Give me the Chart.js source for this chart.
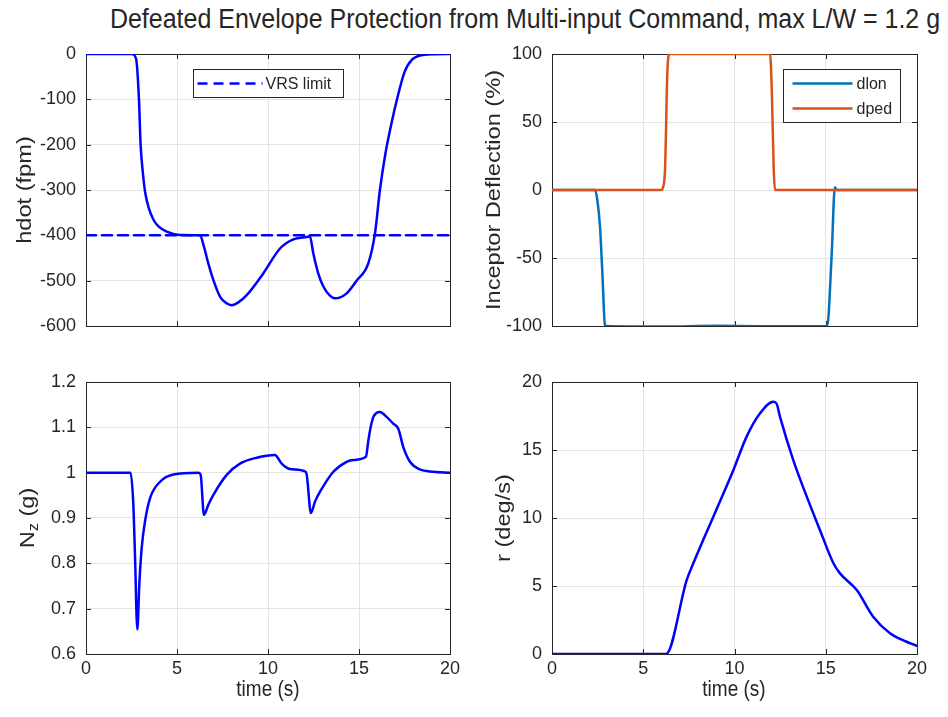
<!DOCTYPE html>
<html>
<head>
<meta charset="utf-8">
<title>Defeated Envelope Protection</title>
<script src="https://cdn.jsdelivr.net/npm/chart.js@4.4.1/dist/chart.umd.min.js"></script>
<style>
  body { margin: 0; width: 948px; height: 717px; background: #fff; overflow: hidden; position: relative;
         font-family: 'Liberation Sans', Arial, Helvetica, sans-serif; color: #262626; }
  canvas { position: absolute; }
  .lbl { position: absolute; white-space: nowrap; font-size: 19px; line-height: 1; transform: translate(-50%, -50%) scaleY(1.12); }
  .lbl.rot { font-size: 20px; transform: translate(-50%, -50%) rotate(-90deg) scaleX(1.18); }
  .lbl sub { font-size: 14px; vertical-align: -4px; }
  #title { position: absolute; left: 25px; width: 1000px; top: 6px; text-align: center; font-size: 25px; line-height: 25px; transform: scaleY(1.1); }
</style>
</head>
<body>
<div id="title">Defeated Envelope Protection from Multi-input Command, max L/W = 1.2 g</div>

<canvas id="hdotChart" width="460" height="300" style="left:0;top:40px"></canvas>
<canvas id="inceptorChart" width="465" height="300" style="left:465px;top:40px"></canvas>
<canvas id="nzChart" width="460" height="347" style="left:0;top:370px"></canvas>
<canvas id="rChart" width="465" height="347" style="left:465px;top:370px"></canvas>

<div class="lbl rot" style="left:24px;top:190px">hdot (fpm)</div>
<div class="lbl rot" style="left:493px;top:190px">Inceptor Deflection (%)</div>
<div class="lbl rot" style="left:28px;top:518px">N<sub>z</sub> (g)</div>
<div class="lbl rot" style="left:503px;top:518px">r (deg/s)</div>
<div class="lbl" style="left:268px;top:689px">time (s)</div>
<div class="lbl" style="left:734px;top:689px">time (s)</div>

<script>
// data
const timeTicks = [0, 5, 10, 15, 20];

const hdotTime = [0, 2.5, 2.75, 2.91, 3.0, 3.12, 3.25, 3.45, 3.7, 4.0, 4.43, 5.16, 6.26, 6.48, 6.72, 7.0, 7.36, 7.73, 8.0, 8.37, 8.83, 9.74,
                  10.66, 11.39, 12.2, 12.3, 12.49, 12.76, 13.04, 13.4, 13.68, 14.32, 14.87, 15.51, 15.88, 16.15, 16.45, 16.8, 17.15,
                  17.5, 17.9, 18.53, 19.2, 20];
const hdotFpm = [0, 0, -10, -100, -200, -260, -305, -340, -365, -381, -392, -399, -400, -425, -462, -499, -535, -550, -554, -548, -532, -484,
                 -429, -409, -403, -402, -440, -484, -513, -533, -539, -528, -500, -462, -395, -300, -220, -150, -90,
                 -40, -13, -2, -0.5, 0];
const vrsTime = [0, 20];
const vrsLimit = [-400, -400];
const hdotTicks = [-600, -500, -400, -300, -200, -100, 0];

const dlonTime = [0, 2.36, 2.48, 2.63, 2.76, 2.9, 3.0, 6, 9, 12, 15.08, 15.32, 15.5, 15.6, 20];
const dlonPct = [0, 0, -7, -27, -61, -99, -100, -100.4, -99.8, -100.2, -100, -49, 2, 0, 0];
const dpedTime = [0, 6.01, 6.06, 6.19, 6.32, 6.43, 11.95, 12.05, 12.15, 12.22, 20];
const dpedPct = [0, 0, 1, 14, 86, 100, 100, 70, 15, 0, 0];
const inceptorTicks = [-100, -50, 0, 50, 100];

const nzTime = [0, 2.45, 2.6, 2.69, 2.82, 2.93, 3.06, 3.24, 3.52, 4.07, 4.8, 6.17, 6.3, 6.48, 6.72, 7.0, 7.73, 8.46, 9.38, 10.38,
                10.75, 11.2, 12.03, 12.13, 12.36, 12.58, 12.86, 13.59, 14.32, 14.7, 15.38, 15.51, 15.64, 15.79, 15.97, 16.15,
                16.52, 16.88, 17.16, 17.43, 17.8, 18.35, 19.08, 20];
const nzG = [1.0, 1.0, 0.93, 0.82, 0.654, 0.754, 0.834, 0.892, 0.944, 0.98, 0.996, 1.0, 0.995, 0.907, 0.929, 0.951, 0.995, 1.02, 1.033, 1.039,
             1.02, 1.008, 1.003, 0.995, 0.911, 0.936, 0.958, 1.002, 1.024, 1.028, 1.035, 1.07, 1.1, 1.123, 1.132, 1.134,
             1.123, 1.108, 1.097, 1.057, 1.024, 1.007, 1.002, 1.0];
const nzTicks = [0.6, 0.7, 0.8, 0.9, 1.0, 1.1, 1.2];

const rTime = [0, 6.25, 7.38, 7.74, 8.84, 9.93, 10.67, 11.4, 12.13, 12.31, 12.49, 13.22, 13.96, 14.68, 15.42, 15.78, 16.7, 17.6,
               18.52, 19.43, 19.89, 20];
const rDegS = [0, 0, 5.44, 6.65, 10.1, 13.5, 16.0, 17.7, 18.55, 18.4, 17.45, 14.26, 11.57, 9.12, 6.67, 5.93, 4.7, 2.74,
               1.52, 0.9, 0.66, 0.6];
const rTicks = [0, 5, 10, 15, 20];

const ink = '#262626';
const gridColor = '#e3e3e3';
const tickFont = { family: "'Liberation Sans', Arial, sans-serif", size: 18 };

function xy(xs, ys) {
    return xs.map((x, i) => ({ x: x, y: ys[i] }));
}

// box round the axes with inward tick marks on all four sides, like matlab
const matlabBox = {
    id: 'matlabBox',
    beforeDatasetsDraw(chart) {
        const { ctx, chartArea: a, scales } = chart;
        ctx.save();
        ctx.strokeStyle = ink;
        ctx.lineWidth = 1;
        ctx.beginPath();
        scales.x.ticks.forEach(t => {
            const px = Math.round(scales.x.getPixelForValue(t.value)) + 0.5;
            ctx.moveTo(px, a.bottom); ctx.lineTo(px, a.bottom - 5);
            ctx.moveTo(px, a.top); ctx.lineTo(px, a.top + 5);
        });
        scales.y.ticks.forEach(t => {
            const py = Math.round(scales.y.getPixelForValue(t.value)) + 0.5;
            ctx.moveTo(a.left, py); ctx.lineTo(a.left + 5, py);
            ctx.moveTo(a.right, py); ctx.lineTo(a.right - 5, py);
        });
        ctx.stroke();
        ctx.strokeRect(Math.round(a.left) + 0.5, Math.round(a.top) + 0.5, Math.round(a.right - a.left), Math.round(a.bottom - a.top));
        ctx.restore();
    }
};

// boxed legend inside the axes
function boxLegend(cfg) {
    return {
        id: 'boxLegend',
        afterDatasetsDraw(chart) {
            if (!cfg) return;
            const { ctx, chartArea } = chart;
            const x = Math.round(chartArea.left + cfg.x) + 0.5;
            const y = Math.round(chartArea.top + cfg.y) + 0.5;
            ctx.save();
            ctx.fillStyle = '#fff';
            ctx.fillRect(x, y, cfg.w, cfg.h);
            ctx.strokeStyle = ink;
            ctx.lineWidth = 1;
            ctx.strokeRect(x, y, cfg.w, cfg.h);
            ctx.font = "16px 'Liberation Sans', Arial, sans-serif";
            ctx.textBaseline = 'middle';
            cfg.items.forEach((idx, i) => {
                const ds = chart.data.datasets[idx];
                const ly = y + cfg.rowTop + i * cfg.rowGap;
                ctx.strokeStyle = ds.borderColor;
                ctx.lineWidth = ds.borderWidth;
                ctx.setLineDash(ds.borderDash || []);
                ctx.beginPath();
                ctx.moveTo(x + cfg.lineFrom, ly);
                ctx.lineTo(x + cfg.lineTo, ly);
                ctx.stroke();
                ctx.setLineDash([]);
                ctx.fillStyle = ink;
                ctx.fillText(ds.label, x + cfg.textAt, ly + 1);
            });
            ctx.restore();
        }
    };
}

function makePanel(id, datasets, o) {
    return new Chart(document.getElementById(id), {
        type: 'line',
        data: { datasets: datasets },
        options: {
            responsive: false,
            animation: false,
            events: [],
            layout: { padding: o.pad },
            elements: {
                point: { radius: 0 },
                line: { cubicInterpolationMode: 'monotone', borderCapStyle: 'round', borderJoinStyle: 'round' }
            },
            plugins: { legend: { display: false }, tooltip: { enabled: false } },
            scales: {
                x: {
                    type: 'linear', min: 0, max: 20,
                    afterBuildTicks: s => { s.ticks = timeTicks.map(v => ({ value: v })); },
                    afterFit: s => { s.height = o.xHeight; s.paddingLeft = 0; s.paddingRight = 0; },
                    grid: { color: gridColor, drawTicks: false },
                    border: { display: false },
                    ticks: { display: o.xLabels, padding: 4, color: ink, font: tickFont, maxRotation: 0 }
                },
                y: {
                    type: 'linear', min: o.yTicks[0], max: o.yTicks[o.yTicks.length - 1],
                    afterBuildTicks: s => { s.ticks = o.yTicks.map(v => ({ value: v })); },
                    afterFit: s => { s.width = o.yWidth; s.paddingTop = 0; s.paddingBottom = 0; },
                    grid: { color: gridColor, drawTicks: false },
                    border: { display: false },
                    ticks: { padding: 10, color: ink, font: tickFont, callback: v => String(+v.toFixed(2)) }
                }
            }
        },
        plugins: [matlabBox, boxLegend(o.legend)]
    });
}

makePanel('hdotChart', [
    { label: 'hdot', data: xy(hdotTime, hdotFpm), borderColor: '#0000ff', borderWidth: 2.5, order: 2 },
    { label: 'VRS limit', data: xy(vrsTime, vrsLimit), borderColor: '#0000ff', borderWidth: 2.5, borderDash: [10, 6], order: 1 }
], {
    pad: { left: 0, top: 14, right: 10, bottom: 0 }, yWidth: 86, xHeight: 14, xLabels: false, yTicks: hdotTicks,
    legend: { x: 107, y: 15, w: 150, h: 28, items: [1], rowTop: 14, rowGap: 0, lineFrom: 4, lineTo: 69, textAt: 72 }
});

makePanel('inceptorChart', [
    { label: 'dlon', data: xy(dlonTime, dlonPct), borderColor: '#0072bd', borderWidth: 2.5, order: 2 },
    { label: 'dped', data: xy(dpedTime, dpedPct), borderColor: '#d95319', borderWidth: 2.5, order: 1 }
], {
    pad: { left: 0, top: 14, right: 13, bottom: 0 }, yWidth: 87, xHeight: 14, xLabels: false, yTicks: inceptorTicks,
    legend: { x: 231, y: 15, w: 117, h: 53, items: [0, 1], rowTop: 14, rowGap: 25, lineFrom: 9, lineTo: 69, textAt: 73 }
});

makePanel('nzChart', [
    { label: 'Nz', data: xy(nzTime, nzG), borderColor: '#0000ff', borderWidth: 2.5 }
], {
    pad: { left: 0, top: 12, right: 10, bottom: 0 }, yWidth: 86, xHeight: 63, xLabels: true, yTicks: nzTicks
});

makePanel('rChart', [
    { label: 'r', data: xy(rTime, rDegS), borderColor: '#0000ff', borderWidth: 2.5 }
], {
    pad: { left: 0, top: 12, right: 13, bottom: 0 }, yWidth: 87, xHeight: 63, xLabels: true, yTicks: rTicks
});
</script>
</body>
</html>
